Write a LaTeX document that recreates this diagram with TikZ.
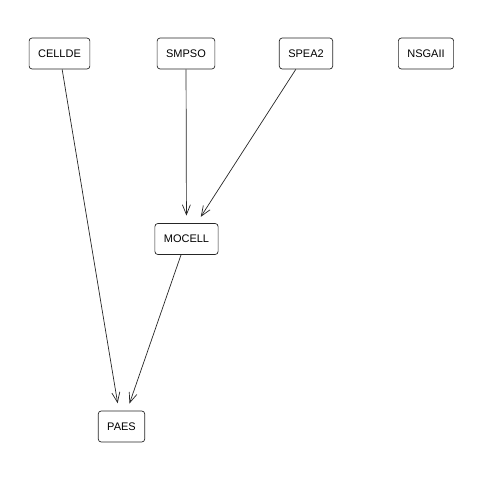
\documentclass[tikz,border=0pt]{standalone}
\usepackage{fontspec}
\setmainfont{Liberation Sans}
\usetikzlibrary{arrows.meta}
\begin{document}
\begin{tikzpicture}[x=1pt,y=-1pt,
  algo/.style={draw=black!85, line width=0.7pt, rounded corners=3pt,
    inner xsep=9pt, minimum height=31pt, font=\fontsize{11}{13}\selectfont},
  dep/.style={draw=black!85, line width=0.7pt, shorten >=7.5pt,
    -{Straight Barb[length=10pt,width=8pt,line width=0.7pt]}}]
  \useasboundingbox (0,0) rectangle (480,480);
  \node[algo] (cellde) at (59.5,53.5) {CELLDE};
  \node[algo] (smpso)  at (186,53.5) {SMPSO};
  \node[algo] (spea2)  at (306,53.5) {SPEA2};
  \node[algo] (nsgaii) at (426,53.5) {NSGAII};
  \node[algo] (mocell) at (186.5,239) {MOCELL};
  \node[algo] (paes)   at (121.5,426.5) {PAES};
  \draw[dep] (cellde) -- (paes);
  \draw[dep] (smpso) -- (mocell);
  \draw[dep] (spea2) -- (mocell);
  \draw[dep] (mocell) -- (paes);
\end{tikzpicture}
\end{document}
